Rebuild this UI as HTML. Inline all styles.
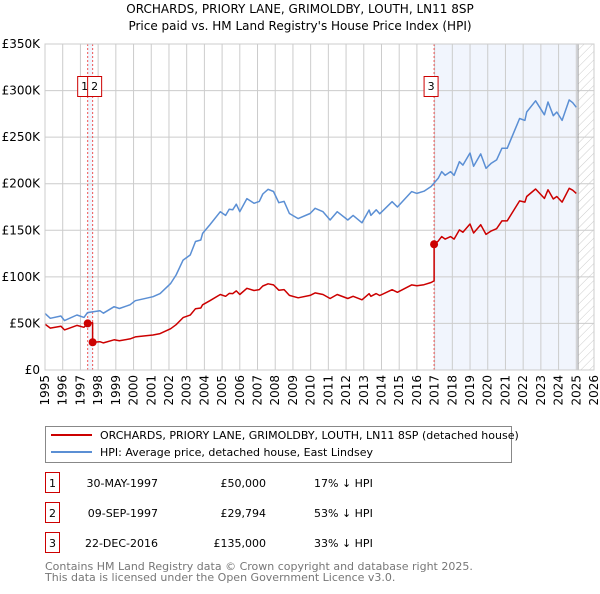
<!DOCTYPE html>
<html><head><meta charset="utf-8"><style>
body{margin:0;background:#fff;width:600px;height:590px;overflow:hidden;font-family:"DejaVu Sans","Liberation Sans",sans-serif;}
svg text{font-family:"DejaVu Sans","Liberation Sans",sans-serif;}
</style></head><body>
<svg id="chart" width="600" height="590" viewBox="0 0 600 590" xmlns="http://www.w3.org/2000/svg">
<defs>
<pattern id="hatch" width="6" height="6" patternUnits="userSpaceOnUse" patternTransform="rotate(45)">
<line x1="0" y1="0" x2="0" y2="6" stroke="#ccc" stroke-width="1"/></pattern>
</defs>
<text x="300" y="13" text-anchor="middle" font-size="12">ORCHARDS, PRIORY LANE, GRIMOLDBY, LOUTH, LN11 8SP</text>
<text x="300" y="30" text-anchor="middle" font-size="12">Price paid vs. HM Land Registry's House Price Index (HPI)</text>
<g id="plot"></g>
<g>
<rect x="45.5" y="426.5" width="466" height="36" fill="#fff" stroke="#888"/>
<line x1="51" y1="435" x2="92" y2="435" stroke="#cc0000" stroke-width="2"/>
<text x="100" y="439" font-size="11">ORCHARDS, PRIORY LANE, GRIMOLDBY, LOUTH, LN11 8SP (detached house)</text>
<line x1="51" y1="452" x2="92" y2="452" stroke="#5b8fd4" stroke-width="2"/>
<text x="100" y="456" font-size="11">HPI: Average price, detached house, East Lindsey</text>
</g>
<g id="table" font-size="11"></g>
<text x="45" y="570" font-size="11" fill="#777">Contains HM Land Registry data © Crown copyright and database right 2025.</text>
<text x="45" y="581" font-size="11" fill="#777">This data is licensed under the Open Government Licence v3.0.</text>
</svg>
<script>
const hpiYears=[1995.0,1995.3,1995.9,1996.1,1996.8,1997.2,1997.4,1998.1,1998.3,1998.9,1999.2,1999.8,2000.1,2000.7,2001.1,2001.5,2002.1,2002.4,2002.8,2003.2,2003.5,2003.8,2003.9,2004.3,2004.9,2005.2,2005.4,2005.6,2005.8,2006.0,2006.4,2006.8,2007.1,2007.3,2007.6,2007.9,2008.2,2008.5,2008.8,2009.3,2009.97,2010.25,2010.7,2011.1,2011.5,2012.1,2012.4,2012.9,2013.3,2013.4,2013.7,2013.9,2014.6,2014.9,2015.7,2016.0,2016.4,2016.8,2017.2,2017.4,2017.6,2017.9,2018.1,2018.4,2018.6,2019.0,2019.2,2019.6,2019.9,2020.2,2020.5,2020.8,2021.1,2021.6,2021.8,2022.1,2022.2,2022.7,2023.2,2023.4,2023.7,2023.9,2024.2,2024.6,2024.8,2025.0];
const hpiValues=[60.8,55.5,58,53,59,56.5,61.6,63.7,61,68,66,70,74.4,77,78.7,82,93,102,118,123.5,138,139.6,146.7,155.7,170,166,172.5,172,178,170,184,179,181,189,194,191.6,179.6,181,168,162.5,168,173.6,170,161,170,161,166,158,171.8,166,172,167.7,180.7,175,191.5,189.6,192,197,205.8,213,209,213,209,223.6,220,233,218.7,232,216.5,222,225.6,238,238,261,270,268,277,289,274,287.7,273,277,268,290,287,282];
const saleLabels=["1","2","3"];
const saleYears=[1997.41,1997.69,2016.97];
const salePrices=[50,29.794,135];
const saleDates=["30-MAY-1997","09-SEP-1997","22-DEC-2016"];
const salePriceText=["£50,000","£29,794","£135,000"];
const saleDiffText=["17% ↓ HPI","53% ↓ HPI","33% ↓ HPI"];
const yTickValues=[0,50,100,150,200,250,300,350];
const yTickLabels=["£0","£50K","£100K","£150K","£200K","£250K","£300K","£350K"];
const xTickYears=[1995,1996,1997,1998,1999,2000,2001,2002,2003,2004,2005,2006,2007,2008,2009,2010,2011,2012,2013,2014,2015,2016,2017,2018,2019,2020,2021,2022,2023,2024,2025,2026];

const L=45,R=594,T=44,B=370,X0=1995,X1=2026,YMAX=350,DATA_END=2025.1;
const sx=t=>L+(t-X0)/(X1-X0)*(R-L);
const sy=v=>B-v/YMAX*(B-T);
const NS="http://www.w3.org/2000/svg";
const plot=document.getElementById('plot');
function mk(tag,attrs,parent){const e=document.createElementNS(NS,tag);for(const k in attrs)e.setAttribute(k,attrs[k]);(parent||plot).appendChild(e);return e;}
function hpiAt(t){for(let i=1;i<hpiYears.length;i++){if(t<=hpiYears[i]){const f=(t-hpiYears[i-1])/(hpiYears[i]-hpiYears[i-1]);return hpiValues[i-1]+f*(hpiValues[i]-hpiValues[i-1]);}}return hpiValues[hpiValues.length-1];}

let r=mk('rect',{x:sx(saleYears[2]),y:T,width:sx(DATA_END)-sx(saleYears[2]),height:B-T,fill:'#eef3fc',opacity:0.8});


r=mk('rect',{x:sx(saleYears[0]),y:T,width:sx(saleYears[1])-sx(saleYears[0]),height:B-T,fill:'#eef3fc',opacity:0.8});


r=mk('rect',{x:sx(DATA_END),y:T,width:R-sx(DATA_END),height:B-T,fill:'url(#hatch)'});



yTickValues.forEach((v,i)=>{
 let g=mk('line',{x1:L,x2:R,y1:sy(v),y2:sy(v),stroke:'#cccccc','stroke-width':1});
 
 
 let t=mk('text',{x:40,y:sy(v)+4,'text-anchor':'end','font-size':12});
 t.textContent=yTickLabels[i];
 
 
});
xTickYears.forEach(yr=>{
 let g=mk('line',{x1:sx(yr),x2:sx(yr),y1:T,y2:B,stroke:'#cccccc','stroke-width':1});
 
 
 let t=mk('text',{x:0,y:0,'text-anchor':'end','font-size':12,transform:`translate(${sx(yr)+4},${B+5}) rotate(-90)`});
 t.textContent=yr;
 
 
});
let dl=mk('line',{x1:sx(DATA_END),x2:sx(DATA_END),y1:T,y2:B,stroke:'#999','stroke-width':1});



saleYears.forEach((s,i)=>{
 let l=mk('line',{x1:sx(s),x2:sx(s),y1:T,y2:B,stroke:'#ee5555','stroke-width':1,'stroke-dasharray':'2,2'});
 
 
});

let hp=hpiYears.map((t,i)=>`${i?'L':'M'}${sx(t).toFixed(1)},${sy(hpiValues[i]).toFixed(1)}`).join('');
let hpl=mk('path',{d:hp,fill:'none',stroke:'#5b8fd4','stroke-width':1.5,'stroke-linejoin':'round'});



function factorAt(t){let k=0;for(let i=0;i<saleYears.length;i++){if(t>=saleYears[i])k=i;}return salePrices[k]/hpiAt(saleYears[k]);}
let pts=[];
hpiYears.forEach((t,i)=>{
 saleYears.forEach((s,k)=>{if(s>(i?hpiYears[i-1]:0)&&s<=t&&k>0){pts.push([s,hpiAt(s)*salePrices[k-1]/hpiAt(saleYears[k-1])]);pts.push([s,salePrices[k]]);}});
 pts.push([t,hpiValues[i]*factorAt(t)]);
});
let pp=pts.map((p,i)=>`${i?'L':'M'}${sx(p[0]).toFixed(1)},${sy(p[1]).toFixed(1)}`).join('');
let prl=mk('path',{d:pp,fill:'none',stroke:'#cc0000','stroke-width':1.5,'stroke-linejoin':'round'});



saleYears.forEach((s,i)=>{
 let c=mk('circle',{cx:sx(s),cy:sy(salePrices[i]),r:4,fill:'#cc0000'});
 
 
});
const boxX=[sx(saleYears[0])-10,sx(saleYears[1])-5,sx(saleYears[2])-10];
saleLabels.forEach((lb,i)=>{
 let b=mk('rect',{x:boxX[i],y:76.5,width:14,height:20,fill:'#fff',stroke:'#cc0000'});
 
 
 let t=mk('text',{x:boxX[i]+7,y:90,'text-anchor':'middle','font-size':11});
 t.textContent=lb;
 
 
});
let fr=mk('rect',{x:L,y:T,width:R-L,height:B-T,fill:'none',stroke:'#cccccc'});



const tb=document.getElementById('table');
saleLabels.forEach((lb,i)=>{
 const y=483+30*i;
 let b=mk('rect',{x:45.5,y:y-10.5,width:14,height:20,fill:'#fff',stroke:'#cc0000'},tb);
 
 
 let t=mk('text',{x:52.5,y:y+4,'text-anchor':'middle'},tb);t.textContent=lb;
 
 
 t=mk('text',{x:158,y:y+4,'text-anchor':'end'},tb);t.textContent=saleDates[i];
 
 
 t=mk('text',{x:266,y:y+4,'text-anchor':'end'},tb);t.textContent=salePriceText[i];
 
 
 t=mk('text',{x:314,y:y+4},tb);t.textContent=saleDiffText[i];
 
 
});
</script>
</body></html>
